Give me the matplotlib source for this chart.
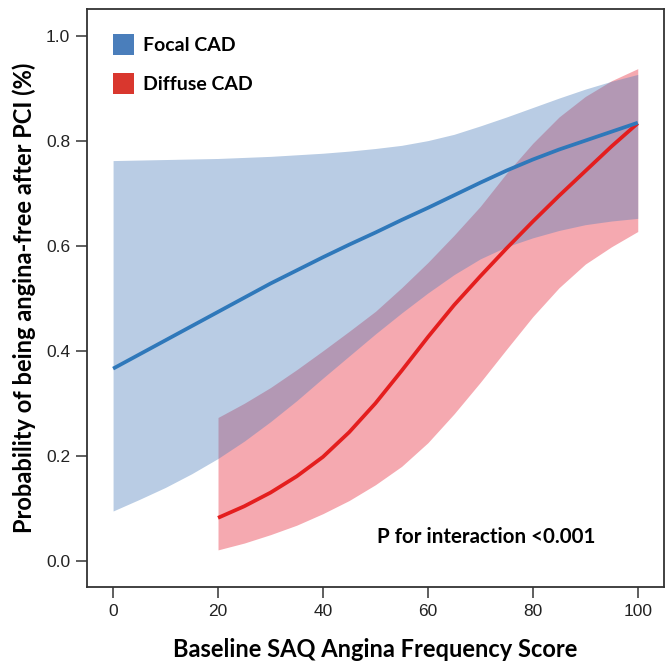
import matplotlib
matplotlib.use("Agg")
import matplotlib.pyplot as plt
from matplotlib.patches import Patch

# values
focal_x = [0, 5, 10, 15, 20, 25, 30, 35, 40, 45, 50,
           55, 60, 65, 70, 75, 80, 85, 90, 95, 100]
focal_mid = [0.366, 0.393, 0.420, 0.447, 0.474, 0.501, 0.528, 0.553, 0.578, 0.602, 0.625,
             0.649, 0.672, 0.696, 0.720, 0.743, 0.764, 0.783, 0.800, 0.817, 0.834]
focal_hi = [0.762, 0.763, 0.764, 0.765, 0.766, 0.768, 0.770, 0.773, 0.776, 0.780, 0.785,
            0.791, 0.800, 0.812, 0.828, 0.845, 0.863, 0.881, 0.898, 0.913, 0.926]
focal_lo = [0.095, 0.117, 0.140, 0.166, 0.195, 0.228, 0.265, 0.305, 0.348, 0.390, 0.432,
            0.472, 0.510, 0.545, 0.575, 0.598, 0.615, 0.629, 0.640, 0.647, 0.652]

diffuse_x = [20, 25, 30, 35, 40, 45, 50, 55, 60, 65, 70, 75, 80, 85, 90, 95, 100]
diffuse_mid = [0.082, 0.104, 0.130, 0.161, 0.198, 0.245, 0.300, 0.362, 0.426,
               0.487, 0.542, 0.595, 0.646, 0.695, 0.742, 0.789, 0.833]
diffuse_hi = [0.273, 0.300, 0.330, 0.364, 0.400, 0.437, 0.475, 0.520, 0.568,
              0.620, 0.675, 0.738, 0.795, 0.845, 0.884, 0.914, 0.937]
diffuse_lo = [0.021, 0.034, 0.050, 0.068, 0.090, 0.115, 0.145, 0.180, 0.225,
              0.280, 0.340, 0.403, 0.465, 0.520, 0.565, 0.598, 0.627]

x_ticks = [0, 20, 40, 60, 80, 100]
y_ticks = [0.0, 0.2, 0.4, 0.6, 0.8, 1.0]
series_names = ["Focal CAD", "Diffuse CAD"]

BOLD = "Lato"
TICKFONT = "Liberation Sans"

fig = plt.figure(figsize=(6.68, 6.62), dpi=100)
ax = fig.add_axes([0.130, 0.113, 0.864, 0.873])

# diffuse first, so the focal band sits on top of the red line
ax.fill_between(diffuse_x, diffuse_lo, diffuse_hi, color="#E6283A", alpha=0.4, lw=0)
ax.plot(diffuse_x, diffuse_mid, color="#E41E1E", lw=2.7, solid_capstyle="butt")
ax.fill_between(focal_x, focal_lo, focal_hi, color="#5080BC", alpha=0.4, lw=0)
ax.plot(focal_x, focal_mid, color="#2F78BA", lw=2.7, solid_capstyle="butt")

ax.set_xlim(-5, 105)
ax.set_ylim(-0.05, 1.05)
ax.set_xticks(x_ticks)
ax.set_yticks(y_ticks)
ax.set_xticklabels([str(t) for t in x_ticks], fontfamily=TICKFONT, fontsize=12.5, color="#222222")
ax.set_yticklabels(["%.1f" % t for t in y_ticks], fontfamily=TICKFONT, fontsize=12.5, color="#222222")
ax.tick_params(direction="out", length=8, width=1.1, color="#333333", pad=4)

for s in ax.spines.values():
    s.set_linewidth(1.3)
    s.set_color("#333333")

ax.set_xlabel("Baseline SAQ Angina Frequency Score", fontfamily=BOLD, fontweight="bold",
              fontsize=17, labelpad=14)
ax.set_ylabel("Probability of being angina-free after PCI (%)", fontfamily=BOLD,
              fontweight="bold", fontsize=17, labelpad=7)

handles = [Patch(facecolor="#4A7EBB", edgecolor="none"),
           Patch(facecolor="#D9372E", edgecolor="none")]
ax.legend(handles, series_names, loc="upper left", bbox_to_anchor=(0.045, 0.957),
          frameon=False, borderpad=0, borderaxespad=0, handlelength=1.1,
          handleheight=1.25, handletextpad=0.45, labelspacing=0.95,
          prop={"family": BOLD, "weight": "bold", "size": 14})

ax.text(71.2, 0.046, "P for interaction <0.001", ha="center", va="center",
        fontfamily=BOLD, fontweight="bold", fontsize=14.8)

fig.savefig("out.png", dpi=100)
